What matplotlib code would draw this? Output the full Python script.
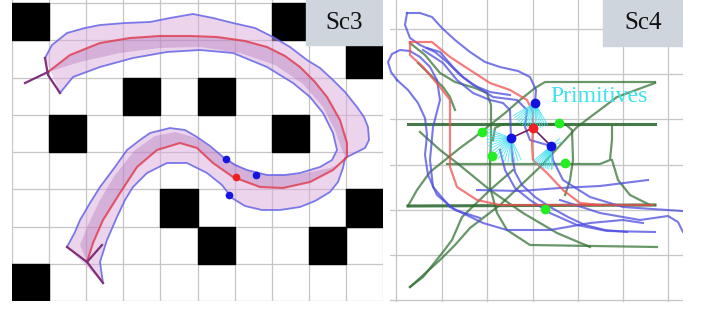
import numpy as np
import matplotlib.pyplot as plt
from matplotlib.patches import Rectangle, Polygon

# ---------- Sc3 (left panel), image pixel coordinates ----------
sc3_obstacles = [(0, 0), (7, 0), (9, 1), (3, 2), (5, 2), (1, 3), (7, 3),
                 (4, 5), (9, 5), (5, 6), (8, 6), (0, 7)]

sc3_tube_outer = [(45, 58), (52, 45), (67, 33), (85, 28), (100, 25), (125, 23), (150, 22),
                  (170, 18), (193, 14), (213, 18), (233, 23), (255, 28), (273, 37), (290, 47),
                  (307, 60), (320, 68), (333, 80), (345, 92), (357, 107), (364, 117), (368, 127),
                  (369, 140), (365, 148), (355, 153), (345, 158), (343, 168), (338, 182),
                  (330, 192), (315, 201), (300, 207), (280, 210), (262, 210), (245, 206),
                  (232, 198), (222, 185), (207, 173), (187, 163), (167, 163), (147, 173),
                  (133, 187), (125, 200), (117, 217), (107, 240), (100, 262), (103, 283)]
sc3_tube_inner = [(67, 247), (75, 232), (80, 220), (90, 203), (100, 187), (115, 167),
                  (127, 150), (140, 140), (150, 133), (170, 128), (185, 130), (197, 137),
                  (210, 146), (223, 157), (235, 165), (247, 170), (267, 175), (285, 175),
                  (300, 173), (320, 167), (332, 160), (337, 150), (333, 133), (323, 113),
                  (310, 97), (293, 83), (280, 75), (267, 67), (250, 60), (233, 53), (200, 50),
                  (167, 52), (133, 58), (100, 67), (73, 77), (60, 93)]
sc3_path = [(48, 72), (70, 55), (100, 43), (130, 38), (160, 36), (190, 36), (217, 37),
            (245, 41), (267, 47), (285, 56), (300, 67), (315, 82), (327, 97), (340, 120),
            (347, 143), (347, 157), (333, 170), (310, 182), (283, 188), (260, 187),
            (233, 177), (213, 163), (197, 148), (180, 143), (157, 150), (137, 167),
            (120, 193), (103, 220), (93, 243), (87, 262)]
sc3_core = [(347, 160), (330, 168), (300, 174), (267, 175), (247, 170), (223, 157),
            (197, 138), (175, 132), (155, 136), (135, 150), (115, 175), (100, 200),
            (88, 225), (80, 245), (87, 262)]
sc3_core_top = [(48, 72), (80, 62), (120, 53), (160, 48), (200, 47), (240, 53), (275, 65),
                (303, 84), (323, 107), (335, 130), (342, 150), (347, 160)]
sc3_start = [[(25, 83), (48, 72)], [(45, 58), (48, 75), (60, 93)]]
sc3_end = [[(67, 247), (87, 262), (103, 283)], [(87, 262), (102, 245)]]
sc3_blue = [(226, 159), (256, 175), (229, 195)]
sc3_red = [(236, 177)]

# ---------- Sc4 (right panel), image pixel coordinates ----------
sc4_roads = [
    [(408, 124), (655, 124)],
    [(408, 206), (655, 205)],
]
sc4_green = [
    [(655, 82), (545, 82), (535, 88), (520, 100), (505, 113), (490, 125), (475, 137),
     (460, 148), (445, 160), (430, 172), (417, 190), (408, 206)],
    [(447, 164), (600, 164), (610, 160), (612, 140), (612, 127)],
    [(612, 160), (618, 180), (630, 195), (650, 205)],
    [(410, 43), (425, 55), (440, 73), (455, 82), (475, 88), (487, 93), (491, 105),
     (491, 140), (490, 165), (490, 187), (497, 213), (507, 230), (530, 245), (657, 247)],
    [(420, 132), (440, 150), (457, 163), (490, 190), (523, 213), (557, 233), (590, 247)],
    [(410, 287), (440, 260), (455, 245), (470, 228), (500, 205), (540, 167), (577, 127),
     (617, 97), (655, 83)],
    [(410, 287), (423, 277), (443, 252), (452, 240), (462, 217), (490, 190), (513, 170)],
    [(493, 140), (495, 128), (503, 124), (565, 124), (572, 130), (573, 160), (570, 180),
     (565, 195)],
    [(418, 63), (443, 87), (450, 97), (455, 110)],
]
sc4_blue = [
    [(397, 80), (391, 72), (388, 62), (392, 54), (400, 50), (410, 51), (420, 57),
     (430, 67), (437, 80), (440, 100), (433, 127), (430, 160), (433, 187), (450, 207),
     (483, 223), (507, 230), (550, 230), (590, 223), (623, 220), (643, 223)],
    [(397, 80), (408, 90), (418, 103), (425, 118), (427, 135), (425, 155), (428, 175),
     (437, 195), (455, 210), (480, 218)],
    [(407, 13), (420, 13), (432, 17), (442, 28), (455, 40), (470, 52), (485, 62), (500, 67),
     (518, 71), (530, 77), (536, 90), (535, 103)],
    [(407, 13), (405, 25), (410, 38), (420, 45), (435, 52), (447, 62), (460, 75), (473, 85),
     (490, 92), (510, 95)],
    [(423, 50), (443, 63), (457, 80), (473, 93), (490, 100), (503, 103), (510, 110),
     (511, 138)],
    [(427, 48), (440, 52), (453, 67), (463, 77), (477, 87), (493, 97), (517, 100),
     (527, 110), (525, 127), (530, 140), (551, 146)],
    [(511, 138), (512, 155), (515, 172), (522, 185), (535, 197), (550, 207), (568, 217),
     (585, 225), (605, 230), (627, 232)],
    [(500, 150), (505, 170), (515, 188), (530, 200), (550, 213), (577, 225), (607, 231),
     (655, 232)],
    [(477, 190), (520, 191), (560, 188), (600, 186), (648, 180)],
    [(551, 146), (553, 160), (563, 180), (590, 197), (623, 207), (682, 211)],
    [(560, 200), (600, 213), (640, 220), (668, 216), (678, 222), (683, 232)],
]
sc4_path_a = [(410, 42), (432, 42), (450, 57), (470, 70), (490, 83), (510, 90), (527, 100),
              (533, 112), (533, 128), (532, 145), (533, 160), (547, 173), (563, 190),
              (580, 203), (600, 205), (653, 205)]
sc4_path_b = [(410, 42), (410, 55), (423, 67), (440, 87), (450, 100), (450, 167),
              (457, 187), (477, 200), (500, 205), (540, 205), (600, 205)]
sc4_blue_dots = [(535, 103), (511, 138), (551, 146)]
sc4_red_dot = (533, 128)
sc4_green_dots = [(482, 132), (492, 156), (559, 123), (565, 163), (545, 209)]
# primitive fans: angle list (deg, y down) and ray length per blue dot
fan_angles = [list(range(60, 152, 6)), list(range(65, 205, 8)), list(range(85, 145, 5)) + [-40, -20]]
fan_length = [25, 24, 23]

fig = plt.figure(figsize=(7.02, 3.09), dpi=100)


def panel(rect, xlim, ylim, xt, yt):
    ax = fig.add_axes(rect)
    ax.set_xlim(*xlim)
    ax.set_ylim(*ylim)
    ax.set_xticks(xt)
    ax.set_yticks(yt)
    ax.grid(True, color='#c6c6c6', lw=0.9)
    ax.tick_params(length=0, labelleft=False, labelbottom=False)
    for s in ax.spines.values():
        s.set_visible(False)
    ax.set_axisbelow(True)
    return ax


W, H = 702, 309
ax1 = panel([12 / W, 8 / H, 371 / W, 301 / H], (12, 383), (301, 0),
            [12 + 37.1 * k for k in range(11)], [3 + 37.25 * k for k in range(9)])
ax2 = panel([390 / W, 7 / H, 293 / W, 302 / H], (390, 683), (302, 0),
            [396, 442, 487, 533, 578, 623, 668], [29, 74, 119, 165, 210, 255, 300])

# obstacles
for c, r in sc3_obstacles:
    ax1.add_patch(Rectangle((12 + 37.1 * c, 3 + 37.25 * r), 37.1, 37.25, color='black',
                            zorder=2))

tube = Polygon(sc3_tube_outer + sc3_tube_inner, closed=True, facecolor='#dcaadc',
               alpha=0.5, edgecolor='none', zorder=3)
ax1.add_patch(tube)
core = Polygon(sc3_core_top + sc3_core + sc3_path[::-1], closed=True, facecolor='#a060b0',
               alpha=0.3, edgecolor='none', zorder=3)
ax1.add_patch(core)
for edge in (sc3_tube_outer, sc3_tube_inner):
    xs, ys = zip(*edge)
    ax1.plot(xs, ys, color='#6464e6', lw=1.3, alpha=0.85, zorder=4)
xs, ys = zip(*sc3_path)
ax1.plot(xs, ys, color='#e03848', lw=1.5, alpha=0.8, zorder=5)
for seg in sc3_start + sc3_end:
    xs, ys = zip(*seg)
    ax1.plot(xs, ys, color='#80307a', lw=1.6, zorder=5)
for x, y in sc3_blue:
    ax1.plot(x, y, 'o', color='#1515e0', ms=4.5, zorder=6)
for x, y in sc3_red:
    ax1.plot(x, y, 'o', color='#f02020', ms=4.5, zorder=6)

ax1.add_patch(Rectangle((306, 0), 77, 45, color='#cfd5dc', zorder=7))
ax1.text(344.5, 23, 'Sc3', fontsize=18, family='Liberation Serif', ha='center',
         va='center', color='#111111', zorder=8)

# Sc4
for line in sc4_roads:
    xs, ys = zip(*line)
    ax2.plot(xs, ys, color='#25632a', lw=2.2, alpha=0.85, zorder=3)
for line in sc4_green:
    xs, ys = zip(*line)
    ax2.plot(xs, ys, color='#2f6f2f', lw=1.6, alpha=0.72, zorder=3)
for i, line in enumerate(sc4_blue):
    xs, ys = zip(*line)
    ax2.plot(xs, ys, color='#4b4be0', lw=1.5, alpha=0.75, zorder=4, clip_on=(i != 0))
for path in (sc4_path_a, sc4_path_b):
    xs, ys = zip(*path)
    ax2.plot(xs, ys, color='#f05050', lw=1.6, alpha=0.75, zorder=5)
for (x, y), angs, L in zip(sc4_blue_dots, fan_angles, fan_length):
    for a in angs:
        t = np.deg2rad(a)
        k = 0.5 if a < 0 else 1.0
        ax2.plot([x, x + k * L * np.cos(t)], [y, y + k * L * np.sin(t)], color='#40e0f0',
                 lw=0.7, alpha=0.8, zorder=6)
rx, ry = sc4_red_dot
for x, y in sc4_blue_dots[1:]:
    ax2.plot([rx, x], [ry, y], color='#6a2060', lw=1.2, zorder=6)
for x, y in sc4_green_dots:
    ax2.plot(x, y, 'o', color='#22ee22', ms=6, zorder=7)
for x, y in sc4_blue_dots:
    ax2.plot(x, y, 'o', color='#1010e0', ms=6, zorder=7)
ax2.plot(rx, ry, 'o', color='#f02020', ms=6, zorder=7)
ax2.text(599, 97, 'Primitives', fontsize=17, family='Liberation Serif', ha='center',
         va='center', color='#3ae4ee', zorder=8)

ax2.add_patch(Rectangle((603, 0), 80, 46, color='#cfd5dc', zorder=7))
ax2.text(643, 23, 'Sc4', fontsize=18, family='Liberation Serif', ha='center',
         va='center', color='#111111', zorder=8)

fig.savefig('out.png', dpi=100)
